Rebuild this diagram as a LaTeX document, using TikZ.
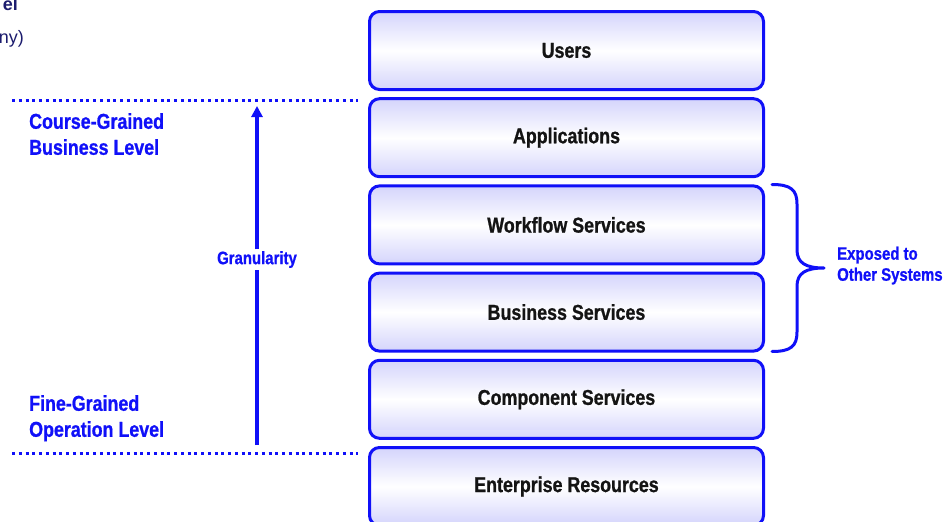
\documentclass[tikz,border=0pt]{standalone}
\usepackage{fontspec}
\setmainfont{Liberation Sans}
\newfontfamily\condf{Liberation Sans}[FakeStretch=0.83, BoldFeatures={FakeBold=0.9}]
\usetikzlibrary{arrows.meta}
\definecolor{lblue}{HTML}{1010F8}
\definecolor{navy}{HTML}{1C1C6E}
\definecolor{shadec}{HTML}{D4D4FC}
\tikzset{
  layer/.style={draw=lblue, line width=3pt, rounded corners=10pt,
    minimum width=394pt, minimum height=78pt, inner sep=0pt,
    top color=shadec, bottom color=shadec, middle color=white,
    font=\condf\bfseries\fontsize{21.5}{24}\selectfont, text=black!92},
  lvl/.style={align=left, anchor=north west, inner sep=0pt, text=lblue,
    font=\condf\bfseries\fontsize{21.5}{26}\selectfont},
  small/.style={align=left, inner sep=0pt, text=lblue,
    font=\condf\bfseries\fontsize{18}{21}\selectfont},
  dotline/.style={lblue, line width=3pt, line cap=butt, dash pattern=on 3pt off 3.75pt},
  blueline/.style={lblue, line width=3.2pt, line cap=round},
  cut/.style={inner sep=0pt, text=navy, anchor=base east}
}
\begin{document}
\begin{tikzpicture}[x=1pt,y=-1pt]
\useasboundingbox (0,0) rectangle (951,522);
% cut-off title text
\node[cut, font=\fontsize{18}{20}\selectfont\bfseries] (t1) at (18,10) {el};
\node[cut, font=\fontsize{18}{20}\selectfont] (t2) at (24,43) {ny)};
% layers
\node[layer] (users) at (566.5,50.5) {Users};
\node[layer] (apps) at (566.5,137.7) {Applications};
\node[layer] (wf) at (566.5,224.9) {Workflow Services};
\node[layer] (bs) at (566.5,312.1) {Business Services};
\node[layer] (cs) at (566.5,399.3) {Component Services};
\node[layer] (er) at (566.5,486.5) {Enterprise Resources};
% dotted level lines
\coordinate (d1a) at (12,100);
\coordinate (d1b) at (358,100);
\coordinate (d2a) at (12,453.5);
\coordinate (d2b) at (358,453.5);
\draw[dotline] (d1a) -- (d1b);
\draw[dotline] (d2a) -- (d2b);
% level labels
\node[lvl] (cg) at (29,113) {Course-Grained\\Business Level};
\node[lvl] (fg) at (29,395) {Fine-Grained\\Operation Level};
% granularity arrow
\coordinate (gbot) at (257,445);
\coordinate (gtop) at (257,106);
\node[small, inner ysep=1.5pt] (gran) at (257,259.5) {Granularity};
\draw[blueline, line cap=butt] (gbot) -- (gran.south);
\draw[blueline, line cap=butt, -{Triangle[length=11pt,width=11pt]}] (gran.north) -- (gtop);
% brace
\coordinate (bt) at (772,184.5);
\coordinate (bb) at (772,351.5);
\coordinate (btip) at (824,268);
\draw[blueline, line width=3pt, line join=round] (bt) .. controls (791,184.5) and (797,190) .. (797,204)
  -- (797,250) .. controls (797,263) and (806,268) .. (btip)
  .. controls (806,268) and (797,273) .. (797,286)
  -- (797,332) .. controls (797,346) and (791,351.5) .. (bb);
\node[small, anchor=north west] (exp) at (837,246.5) {Exposed to\\Other Systems};
\end{tikzpicture}
\end{document}
